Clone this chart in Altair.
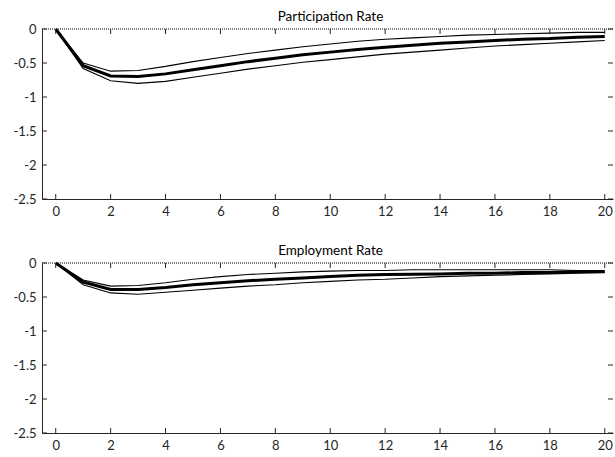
import altair as alt
import pandas as pd

steps = list(range(21))

part_mid = [0, -0.54, -0.69, -0.70, -0.66, -0.60, -0.54, -0.48, -0.43, -0.38, -0.34,
            -0.30, -0.27, -0.24, -0.21, -0.19, -0.17, -0.15, -0.14, -0.12, -0.11]
part_up = [0, -0.50, -0.62, -0.61, -0.55, -0.48, -0.42, -0.36, -0.31, -0.26, -0.22,
           -0.18, -0.15, -0.13, -0.11, -0.09, -0.08, -0.07, -0.06, -0.05, -0.05]
part_lo = [0, -0.58, -0.76, -0.80, -0.77, -0.71, -0.65, -0.59, -0.54, -0.49, -0.45,
           -0.41, -0.37, -0.34, -0.31, -0.28, -0.25, -0.23, -0.21, -0.19, -0.17]

emp_mid = [0, -0.28, -0.39, -0.39, -0.36, -0.32, -0.29, -0.26, -0.24, -0.22, -0.20,
           -0.18, -0.17, -0.165, -0.16, -0.15, -0.15, -0.14, -0.14, -0.13, -0.13]
emp_up = [0, -0.25, -0.34, -0.33, -0.29, -0.24, -0.20, -0.17, -0.15, -0.13, -0.12,
          -0.11, -0.11, -0.10, -0.10, -0.10, -0.10, -0.10, -0.10, -0.11, -0.11]
emp_lo = [0, -0.32, -0.44, -0.46, -0.43, -0.40, -0.37, -0.34, -0.32, -0.29, -0.27,
          -0.25, -0.24, -0.22, -0.20, -0.19, -0.18, -0.17, -0.16, -0.15, -0.14]

x_ticks = [0, 2, 4, 6, 8, 10, 12, 14, 16, 18, 20]
y_ticks = [0, -0.5, -1, -1.5, -2, -2.5]

titles = ["Participation Rate", "Employment Rate"]

W, H = 571, 170
TL = 5
FRAME = "#262626"
FONT = "Lato"

xscale = alt.Scale(domain=[-0.5, 20.3], nice=False, zero=False)
yscale = alt.Scale(domain=[-2.5, 0], nice=False, zero=False)

xax = alt.Axis(values=x_ticks, ticks=False, grid=False, title=None, domainColor=FRAME,
               labelFont=FONT, labelFontSize=13, labelColor=FRAME, labelPadding=6,
               labelFlush=False, labelOverlap=False, format="~g")
yax = alt.Axis(values=y_ticks, ticks=False, grid=False, title=None, domainColor=FRAME,
               labelFont=FONT, labelFontSize=13, labelColor=FRAME, labelPadding=6,
               labelFlush=False, labelOverlap=False,
               labelExpr="datum.value == 0 ? '0' : '-' + format(abs(datum.value), '~g')")


def X(f):
    return alt.X(f, scale=xscale, axis=xax)


def Y(f):
    return alt.Y(f, scale=yscale, axis=yax)


def panel(title, mid, up, lo):
    df = pd.DataFrame({"step": steps, "mid": mid, "up": up, "lo": lo})
    xt = pd.DataFrame({"t": x_ticks})
    yt = pd.DataFrame({"t": y_ticks})

    base = alt.Chart(df)
    up_line = base.mark_line(color="black", strokeWidth=1.1).encode(x=X("step:Q"), y=Y("up:Q"))
    lo_line = base.mark_line(color="black", strokeWidth=1.1).encode(x=X("step:Q"), y=Y("lo:Q"))
    mid_line = base.mark_line(color="black", strokeWidth=3).encode(x=X("step:Q"), y=Y("mid:Q"))

    zero = alt.Chart(pd.DataFrame({"z": [0]})).mark_rule(
        color="black", strokeDash=[1, 1], strokeWidth=1).encode(y=Y("z:Q"))

    bt = alt.Chart(xt).mark_rule(color=FRAME, strokeWidth=1).encode(
        x=X("t:Q"), y=alt.value(H), y2=alt.value(H - TL))
    tt = alt.Chart(xt).mark_rule(color=FRAME, strokeWidth=1).encode(
        x=X("t:Q"), y=alt.value(0), y2=alt.value(TL))
    lt = alt.Chart(yt).mark_rule(color=FRAME, strokeWidth=1).encode(
        y=Y("t:Q"), x=alt.value(0), x2=alt.value(TL))
    rt = alt.Chart(yt).mark_rule(color=FRAME, strokeWidth=1).encode(
        y=Y("t:Q"), x=alt.value(W), x2=alt.value(W - TL))

    return alt.layer(up_line, lo_line, mid_line, zero, bt, tt, lt, rt).properties(
        width=W, height=H,
        title=alt.TitleParams(title, font=FONT, fontSize=13.5, fontWeight="normal",
                              color="black", anchor="middle", dx=3, offset=0),
    )


chart = alt.vconcat(
    panel(titles[0], part_mid, part_up, part_lo),
    panel(titles[1], emp_mid, emp_up, emp_lo),
    spacing=25,
).properties(
    padding={"left": 13, "top": 9, "right": 0, "bottom": 0},
    background="white",
).configure_view(stroke=None)

chart.save("out.html", embed_options={"renderer": "svg", "actions": False})
